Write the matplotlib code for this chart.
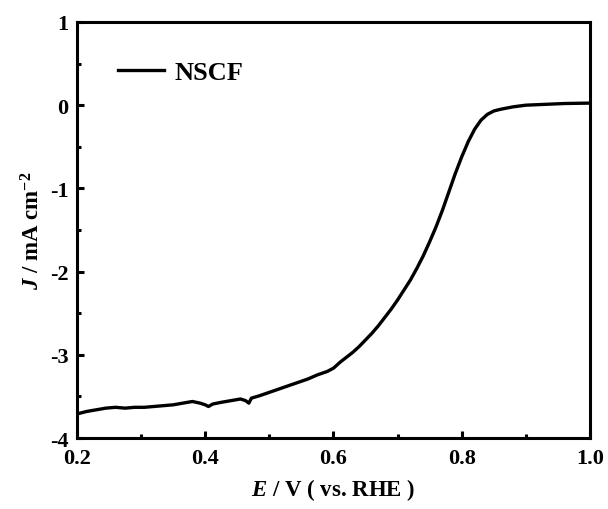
import matplotlib
matplotlib.use('Agg')
import matplotlib.pyplot as plt
from matplotlib.ticker import MultipleLocator

# LSV curve
potential = [0.200, 0.215, 0.230, 0.245, 0.260, 0.275, 0.290, 0.305, 0.320, 0.335,
             0.350, 0.365, 0.380, 0.392, 0.400, 0.405, 0.412, 0.425, 0.440, 0.455,
             0.463, 0.468, 0.472, 0.485, 0.500, 0.515, 0.530, 0.545, 0.560, 0.575,
             0.590, 0.600, 0.610, 0.620, 0.630, 0.640, 0.650, 0.660, 0.670, 0.680,
             0.690, 0.700, 0.710, 0.720, 0.730, 0.740, 0.750, 0.760, 0.770, 0.780,
             0.790, 0.800, 0.810, 0.820, 0.830, 0.840, 0.850, 0.860, 0.880,
             0.900, 0.930, 0.960, 1.000]
current = [-3.71, -3.68, -3.66, -3.64, -3.63, -3.64, -3.63, -3.63, -3.62, -3.61,
           -3.60, -3.58, -3.56, -3.58, -3.60, -3.62, -3.59, -3.57, -3.55, -3.53,
           -3.55, -3.58, -3.52, -3.49, -3.45, -3.41, -3.37, -3.33, -3.29, -3.24,
           -3.20, -3.16, -3.09, -3.03, -2.97, -2.90, -2.82, -2.74, -2.65, -2.55,
           -2.45, -2.34, -2.22, -2.10, -1.96, -1.81, -1.64, -1.46, -1.26, -1.04,
           -0.82, -0.62, -0.44, -0.29, -0.18, -0.11, -0.07, -0.05, -0.02,
           0.00, 0.01, 0.02, 0.025]

plt.rcParams['font.family'] = ['Liberation Serif', 'DejaVu Serif']
plt.rcParams['font.weight'] = 'bold'
plt.rcParams['axes.unicode_minus'] = False
plt.rcParams['mathtext.fontset'] = 'custom'
plt.rcParams['mathtext.rm'] = 'Liberation Serif:bold'
plt.rcParams['mathtext.it'] = 'Liberation Serif:bold:italic'
plt.rcParams['mathtext.bf'] = 'Liberation Serif:bold'

fig = plt.figure(figsize=(6.08, 5.10), dpi=100)
ax = fig.add_axes([0.1266, 0.139, 0.8438, 0.816])

ax.plot(potential, current, color='black', lw=2.4, label='NSCF')

ax.set_xlim(0.2, 1.0)
ax.set_ylim(-4, 1)
ax.xaxis.set_major_locator(MultipleLocator(0.2))
ax.xaxis.set_minor_locator(MultipleLocator(0.1))
ax.yaxis.set_major_locator(MultipleLocator(1))
ax.yaxis.set_minor_locator(MultipleLocator(0.5))
ax.xaxis.set_major_formatter(lambda v, p: f'{v:.1f}')
ax.yaxis.set_major_formatter(lambda v, p: f'{int(round(v))}')

for s in ax.spines.values():
    s.set_linewidth(2.2)
ax.tick_params(which='major', direction='in', length=5, width=2.2, labelsize=16)
ax.tick_params(axis='x', which='major', pad=7)
ax.tick_params(axis='y', which='major', pad=6)
ax.tick_params(which='minor', direction='in', length=3, width=2.2)

ax.set_xlabel(r'$\mathit{E}$ / V ( vs. RHE )', fontsize=16.5, fontweight='bold', labelpad=6)
ax.set_ylabel(r'$\mathit{J}$ / mA cm$^{\mathbf{-2}}$', fontsize=16.5, fontweight='bold', labelpad=4)

leg = ax.legend(loc='upper left', bbox_to_anchor=(0.033, 0.965), frameon=False,
                prop={'size': 19, 'weight': 'bold'}, handlelength=1.75, handletextpad=0.4)

fig.savefig('out.png', dpi=100)
